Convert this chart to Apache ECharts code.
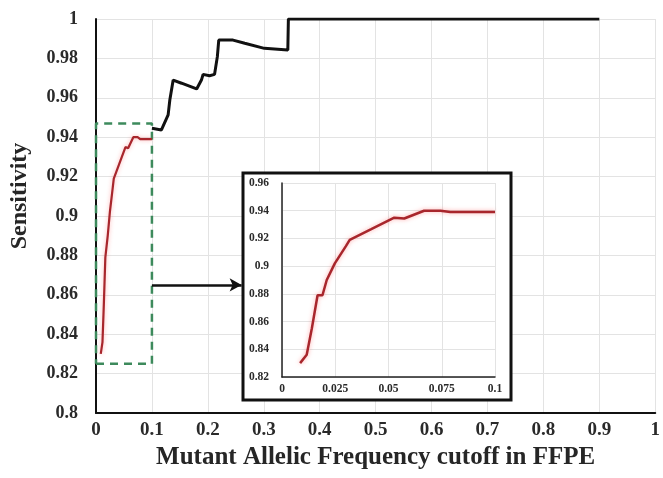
<!DOCTYPE html>
<html>
<head>
<meta charset="utf-8">
<title>Sensitivity vs MAF cutoff</title>
<script src="https://cdn.jsdelivr.net/npm/echarts@6/dist/echarts.min.js"></script>
<style>
  html, body { margin: 0; padding: 0; background: #fff; }
  #chart { width: 663px; height: 478px; }
</style>
</head>
<body>
<div id="chart"></div>
<script>
// Sensitivity over the full cutoff range (0.1 .. 0.9)
const mafCutoff = [0.1, 0.117, 0.129, 0.132, 0.138, 0.153, 0.18, 0.1885, 0.1915, 0.203, 0.212, 0.217, 0.2195, 0.245, 0.266, 0.301, 0.343, 0.344, 0.9];
const sensitivity = [0.9445, 0.9437, 0.9513, 0.9589, 0.969, 0.9674, 0.9645, 0.969, 0.9719, 0.9712, 0.9719, 0.9809, 0.9893, 0.9893, 0.9877, 0.9851, 0.9843, 1.0, 1.0];

// Low cutoff range (0 .. 0.1), shown in red and enlarged in the inset
const lowCutoff = [0.0085, 0.0116, 0.014, 0.0167, 0.019, 0.021, 0.0248, 0.030, 0.0318, 0.0419, 0.0527, 0.0574, 0.0667, 0.0744, 0.079, 0.1];
const lowSensitivity = [0.83, 0.836, 0.855, 0.879, 0.879, 0.890, 0.902, 0.9145, 0.919, 0.9267, 0.935, 0.9344, 0.94, 0.94, 0.939, 0.939];

// Zoom region outline and pointer toward the inset
const zoomBoxX = [0, 0.1, 0.1, 0, 0];
const zoomBoxY = [0.825, 0.825, 0.947, 0.947, 0.825];
const pointerFrom = [0.1, 0.865];
const pointerTo = [0.2604, 0.865];

const pairs = (xs, ys) => xs.map((x, i) => [x, ys[i]]);

const serif = 'Liberation Serif';
const chart = echarts.init(document.getElementById('chart'), null, { renderer: 'canvas' });

chart.setOption({
  animation: false,
  backgroundColor: '#ffffff',
  grid: [
    { left: 96, right: 6, top: 19, bottom: 65 },
    { left: 282, right: 168, top: 183, bottom: 101, z: 20 }
  ],
  xAxis: [
    {
      gridIndex: 0, type: 'value', min: 0, max: 1, interval: 0.1,
      name: 'Mutant Allelic Frequency cutoff in FFPE',
      nameLocation: 'middle', nameGap: 27,
      nameTextStyle: { fontFamily: serif, fontSize: 25, fontWeight: 'bold', color: '#262626' },
      axisLine: { show: true, onZero: false, lineStyle: { color: '#111', width: 2 } },
      axisTick: { show: false },
      axisLabel: { fontFamily: serif, fontSize: 19, fontWeight: 'bold', color: '#2a2a2a', margin: 8 },
      splitLine: { show: true, lineStyle: { color: '#e3e3e3', width: 1 } }
    },
    {
      gridIndex: 1, type: 'value', min: 0, max: 0.1, interval: 0.025, z: 20,
      axisLine: { show: true, onZero: false, lineStyle: { color: '#222', width: 1.5 } },
      axisTick: { show: false },
      axisLabel: { fontFamily: serif, fontSize: 11.5, fontWeight: 'bold', color: '#2a2a2a', margin: 6 },
      splitLine: { show: true, lineStyle: { color: '#e3e3e3', width: 1 } }
    }
  ],
  yAxis: [
    {
      gridIndex: 0, type: 'value', min: 0.8, max: 1, interval: 0.02,
      name: 'Sensitivity',
      nameLocation: 'middle', nameGap: 64,
      nameTextStyle: { fontFamily: serif, fontSize: 24, fontWeight: 'bold', color: '#262626', padding: [0, 0, 0, 40] },
      axisLine: { show: true, onZero: false, lineStyle: { color: '#111', width: 2 } },
      axisTick: { show: false },
      axisLabel: { fontFamily: serif, fontSize: 18, fontWeight: 'bold', color: '#2a2a2a', margin: 18 },
      splitLine: { show: true, lineStyle: { color: '#e3e3e3', width: 1 } }
    },
    {
      gridIndex: 1, type: 'value', min: 0.82, max: 0.96, interval: 0.02, z: 20,
      axisLine: { show: true, onZero: false, lineStyle: { color: '#222', width: 1.5 } },
      axisTick: { show: false },
      axisLabel: { fontFamily: serif, fontSize: 11.5, fontWeight: 'bold', color: '#2a2a2a', margin: 13 },
      splitLine: { show: true, lineStyle: { color: '#e3e3e3', width: 1 } }
    }
  ],
  graphic: [
    {
      type: 'rect', z: 10,
      shape: { x: 243, y: 173, width: 268, height: 227 },
      style: { fill: '#ffffff', stroke: '#111111', lineWidth: 3 }
    }
  ],
  series: [
    {
      type: 'line', xAxisIndex: 0, yAxisIndex: 0,
      data: pairs(mafCutoff, sensitivity),
      showSymbol: false, silent: true, z: 3,
      lineStyle: { color: '#111111', width: 3 }
    },
    {
      type: 'line', xAxisIndex: 0, yAxisIndex: 0,
      data: pairs(zoomBoxX, zoomBoxY),
      showSymbol: false, silent: true, z: 2,
      lineStyle: { color: '#3d8a5c', width: 2.5, type: [8, 6] },
      markLine: {
        silent: true, animation: false,
        symbol: ['none', 'arrow'], symbolSize: [10, 12],
        label: { show: false },
        lineStyle: { color: '#111111', width: 2.5, type: 'solid' },
        data: [[{ coord: pointerFrom }, { coord: pointerTo }]]
      }
    },
    {
      type: 'line', xAxisIndex: 0, yAxisIndex: 0,
      data: pairs(lowCutoff, lowSensitivity),
      showSymbol: false, silent: true, z: 4,
      lineStyle: { color: '#a8262c', width: 2.2, shadowColor: 'rgba(255,90,90,0.45)', shadowBlur: 4 }
    },
    {
      type: 'line', xAxisIndex: 1, yAxisIndex: 1,
      data: pairs(lowCutoff, lowSensitivity),
      showSymbol: false, silent: true, z: 30,
      lineStyle: { color: '#a8262c', width: 2.5, shadowColor: 'rgba(255,90,90,0.5)', shadowBlur: 4 }
    }
  ]
});
</script>
</body>
</html>
